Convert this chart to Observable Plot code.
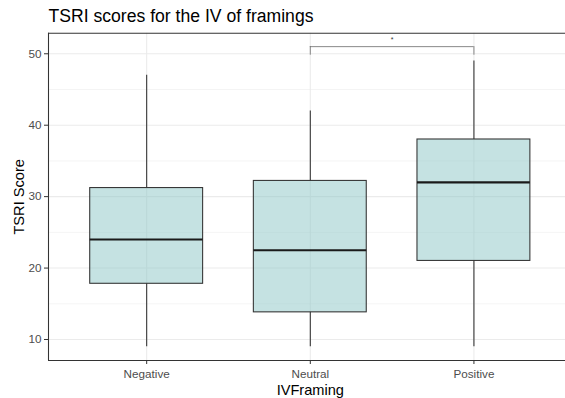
<!DOCTYPE html>
<html><head><meta charset="utf-8">
<script src="https://cdn.jsdelivr.net/npm/d3@7"></script>
<script src="https://cdn.jsdelivr.net/npm/@observablehq/plot@0.6"></script>
<style>html,body{margin:0;padding:0;overflow:hidden;background:#fff}</style>
</head><body><div id="chart"></div>
<script>
const categories = ["Negative", "Neutral", "Positive"];
const whiskerLow = [9, 9, 9];
const q1 = [17.8, 13.8, 21];
const median = [24, 22.5, 32];
const q3 = [31.2, 32.2, 38];
const whiskerHigh = [47, 42, 49];
const yTicks = [10, 20, 30, 40, 50];
const yMinor = [15, 25, 35, 45];
const compareFrom = "Neutral";
const compareTo = "Positive";
const bracketY = 51;
const bracketTip = 49.8;
const starY = 51.9;
const signifLabel = "*";
const title = "TSRI scores for the IV of framings";
const xTitle = "IVFraming";
const yTitle = "TSRI Score";

const rows = categories.map((c, i) => ({
  cat: c, pos: i + 1, lo: whiskerLow[i], q1: q1[i], med: median[i], q3: q3[i], hi: whiskerHigh[i]
}));
const half = 0.345;
const xDomain = [0.4, 3.6];
const yDomain = [7.06, 52.88];
const bx1 = categories.indexOf(compareFrom) + 1;
const bx2 = categories.indexOf(compareTo) + 1;
const bracket = [{x1: bx1, x2: bx2, y: bracketY}];
const legs = [{x: bx1, y1: bracketTip, y2: bracketY}, {x: bx2, y1: bracketTip, y2: bracketY}];
const star = [{x: (bx1 + bx2) / 2, y: starY, t: signifLabel}];

const fontFamily = "'Liberation Sans', Arial, Helvetica, sans-serif";

const chart = Plot.plot({
  width: 565,
  height: 398,
  marginLeft: 48,
  marginRight: 0,
  marginTop: 32.7,
  marginBottom: 38,
  style: {fontFamily, fontSize: "11.7px", background: "#fff"},
  x: {type: "linear", domain: xDomain, range: [48, 571.6]},
  y: {domain: yDomain},
  marks: [
    Plot.ruleY(yMinor, {x1: xDomain[0], x2: xDomain[1], stroke: "#ebebeb", strokeWidth: 0.55}),
    Plot.ruleY(yTicks, {x1: xDomain[0], x2: xDomain[1], stroke: "#ebebeb", strokeWidth: 1.07}),
    Plot.ruleX(rows, {x: "pos", y1: yDomain[0], y2: yDomain[1], stroke: "#ebebeb", strokeWidth: 1.07}),
    Plot.ruleY(bracket, {x1: "x1", x2: "x2", y: "y", stroke: "#6b6b6b", strokeWidth: 0.8}),
    Plot.ruleX(legs, {x: "x", y1: "y1", y2: "y2", stroke: "#6b6b6b", strokeWidth: 0.8}),
    Plot.text(star, {x: "x", y: "y", text: "t", fontSize: 7, fill: "#333", lineAnchor: "middle"}),
    Plot.ruleX(rows, {x: "pos", y1: "lo", y2: "q1", stroke: "#333", strokeWidth: 1.07}),
    Plot.ruleX(rows, {x: "pos", y1: "q3", y2: "hi", stroke: "#333", strokeWidth: 1.07}),
    Plot.rectY(rows, {x1: d => d.pos - half, x2: d => d.pos + half, y1: "q1", y2: "q3",
      fill: "rgb(140,198,198)", fillOpacity: 0.5, stroke: "#333", strokeWidth: 1.07}),
    Plot.ruleY(rows, {x1: d => d.pos - half, x2: d => d.pos + half, y: "med", stroke: "#1a1a1a", strokeWidth: 2.1}),
    Plot.ruleY(yDomain, {x1: xDomain[0], x2: xDomain[1], stroke: "#333", strokeWidth: 1.07}),
    Plot.ruleX([xDomain[0]], {y1: yDomain[0], y2: yDomain[1], stroke: "#333", strokeWidth: 1.07}),
    Plot.axisY({ticks: yTicks, tickSize: 4, tickPadding: 3, label: null, color: "#4d4d4d", stroke: "#333", fontSize: 11.7}),
    Plot.axisX({ticks: [1, 2, 3], tickFormat: d => categories[d - 1], tickSize: 4, tickPadding: 4.7, label: null, color: "#4d4d4d", stroke: "#333", fontSize: 11.7}),
    Plot.text([title], {frameAnchor: "top-left", textAnchor: "start", lineAnchor: "bottom", dy: -11.7, fontSize: 17.6, fill: "#000"}),
    Plot.text([xTitle], {x: 2, frameAnchor: "bottom", textAnchor: "middle", lineAnchor: "bottom", dy: 34, fontSize: 14.6, fill: "#000"}),
    Plot.text([yTitle], {frameAnchor: "left", textAnchor: "middle", lineAnchor: "bottom", rotate: -90, dx: -25, fontSize: 14.6, fill: "#000"})
  ]
});
document.getElementById("chart").appendChild(chart);
</script>
</body></html>
